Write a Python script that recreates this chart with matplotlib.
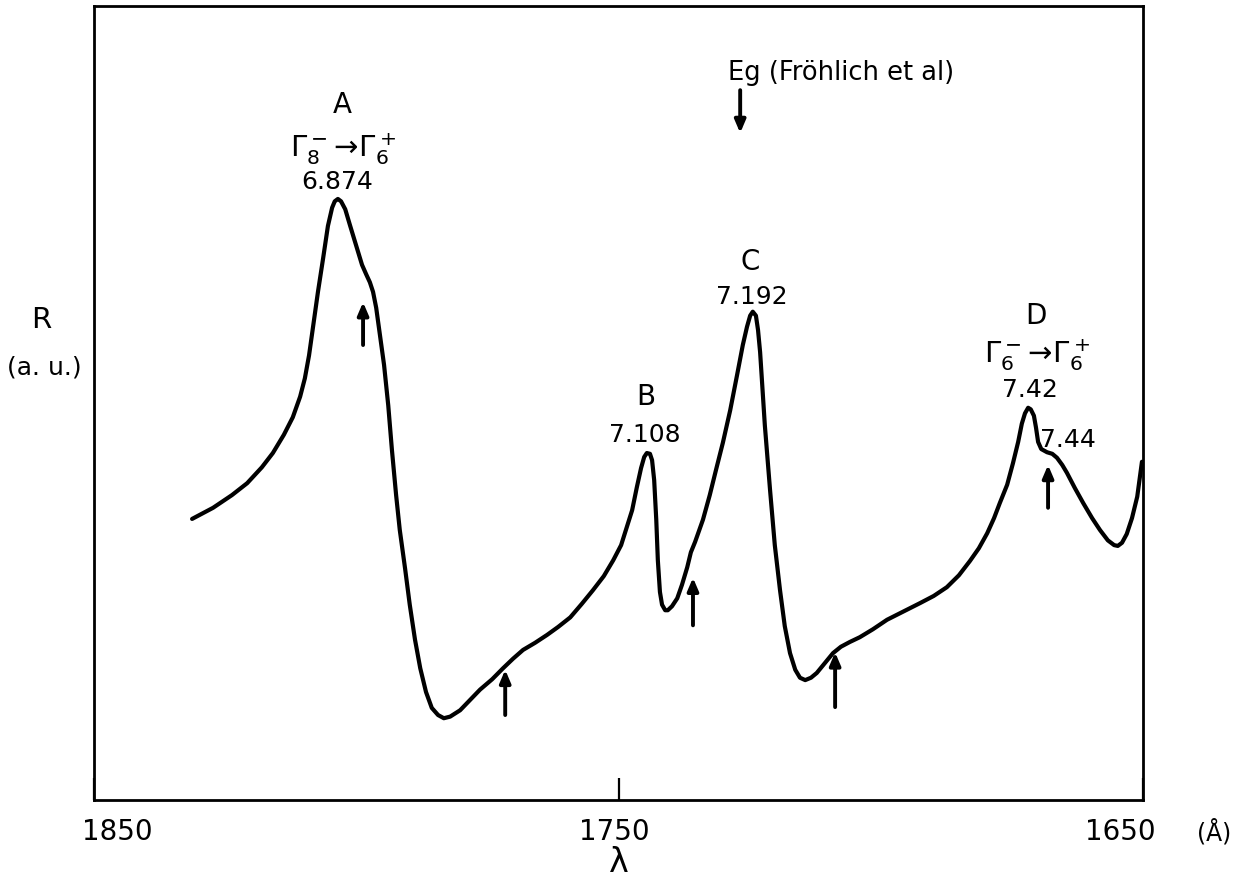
import matplotlib
matplotlib.use("Agg")
import matplotlib.pyplot as plt

plt.rcParams['font.family'] = ['DejaVu Sans']
plt.rcParams['mathtext.fontset'] = 'dejavusans'

# Reflectance spectrum R (a.u.) vs wavelength (Angstrom)
wavelength = [1831.3, 1827.3, 1823.7, 1820.8, 1818.0, 1815.9, 1813.8, 1812.1, 1810.7, 1809.8,
              1809.0, 1808.2, 1807.3, 1806.3, 1805.4, 1804.6, 1804.1, 1803.5, 1802.9, 1802.1,
              1801.2, 1800.0, 1798.9, 1798.1, 1797.4, 1796.8, 1796.2, 1795.5, 1794.7, 1793.9,
              1793.2, 1792.4, 1791.7, 1790.7, 1789.8, 1788.8, 1787.8, 1786.7, 1785.6, 1784.4,
              1783.3, 1782.1, 1780.2, 1778.3, 1776.4, 1774.1, 1772.0, 1770.1, 1768.2, 1765.9,
              1763.6, 1761.5, 1759.2, 1757.0, 1754.9, 1752.8, 1751.0, 1749.5, 1748.4, 1747.4,
              1746.5, 1745.7, 1745.1, 1744.6, 1744.0, 1743.6, 1743.2, 1742.8, 1742.5, 1742.1,
              1741.7, 1741.1, 1740.6, 1739.8, 1738.8, 1737.9, 1736.9, 1736.2, 1735.4, 1733.9,
              1732.6, 1731.4, 1730.1, 1728.7, 1727.4, 1726.3, 1725.5, 1724.9, 1724.4, 1723.8,
              1723.4, 1723.0, 1722.6, 1722.1, 1721.1, 1720.2, 1719.2, 1718.3, 1717.3, 1716.3,
              1715.4, 1714.4, 1713.3, 1712.2, 1710.6, 1709.1, 1707.6, 1705.9, 1704.0, 1701.5,
              1698.8, 1695.8, 1692.5, 1689.9, 1687.4, 1685.1, 1683.0, 1681.3, 1679.7, 1678.4,
              1677.3, 1675.9, 1674.8, 1673.8, 1673.1, 1672.5, 1671.9, 1671.4, 1670.8, 1670.4,
              1670.0, 1669.4, 1668.3, 1667.3, 1666.4, 1665.4, 1664.5, 1663.0, 1661.4, 1659.7,
              1658.2, 1656.7, 1655.5, 1654.8, 1654.0, 1653.1, 1652.1, 1651.1, 1650.6, 1650.2]
reflectance = [35.4, 36.8, 38.4, 39.9, 41.9, 43.7, 46.0, 48.2, 50.8, 53.1,
               56.0, 59.8, 64.0, 68.3, 72.3, 74.6, 75.4, 75.7, 75.4, 74.4,
               72.4, 69.8, 67.4, 66.2, 65.2, 64.0, 62.0, 58.6, 54.8, 49.7,
               44.1, 38.4, 34.0, 29.2, 24.6, 20.2, 16.6, 13.6, 11.6, 10.7,
               10.3, 10.5, 11.3, 12.6, 13.9, 15.2, 16.6, 17.8, 18.9, 19.8,
               20.8, 21.8, 23.0, 24.7, 26.4, 28.2, 30.2, 32.1, 34.4, 36.5,
               39.4, 41.8, 43.2, 43.7, 43.6, 42.8, 40.3, 35.3, 30.2, 26.2,
               24.6, 23.9, 23.9, 24.4, 25.4, 27.1, 29.3, 31.2, 32.5, 35.3,
               38.4, 41.6, 45.0, 49.1, 53.5, 57.3, 59.6, 61.0, 61.5, 61.0,
               59.2, 56.4, 52.3, 47.2, 39.0, 32.1, 26.4, 21.9, 18.5, 16.4,
               15.4, 15.1, 15.4, 16.0, 17.3, 18.5, 19.3, 19.9, 20.5, 21.5,
               22.7, 23.7, 24.8, 25.7, 26.8, 28.3, 30.1, 31.7, 33.6, 35.5,
               37.4, 39.7, 42.4, 45.1, 47.4, 48.7, 49.4, 49.2, 48.4, 46.9,
               45.1, 44.2, 43.8, 43.6, 43.1, 42.2, 41.2, 39.3, 37.4, 35.5,
               34.0, 32.7, 32.1, 32.0, 32.4, 33.5, 35.5, 38.2, 40.6, 42.6]

# structure markers (arrows): wavelength, tail R, tip R
marker_lambda = [1798.7, 1771.6, 1735.8, 1708.7, 1668.1]
marker_tail = [57.3, 10.7, 22.0, 11.7, 36.8]
marker_tip = [62.7, 16.4, 28.0, 18.6, 42.2]

eg_lambda = 1726.8
eg_tail, eg_tip = 89.4, 84.0

# peak labels: text, wavelength, R, size
peak_labels = ["A", r"$\Gamma_8^-\!\rightarrow\!\Gamma_6^+$", "6.874",
               "B", "7.108", "C", "7.192",
               "D", r"$\Gamma_6^-\!\rightarrow\!\Gamma_6^+$", "7.42", "7.44"]
peak_label_lambda = [1802.7, 1802.5, 1803.7, 1744.8, 1744.9, 1724.9, 1724.5,
                     1670.4, 1670.2, 1671.5, 1664.3]
peak_label_R = [87.5, 82.0, 77.8, 50.8, 46.0, 67.8, 63.4, 61.0, 56.0, 51.6, 45.3]
peak_label_size = [20, 21, 18, 20, 18, 20, 18, 20, 21, 18, 18]

tick_values = [1850, 1750, 1650]
tick_labels = ["1850", "1750", "1650"]

fig = plt.figure(figsize=(12.42, 8.88), dpi=100)
ax = fig.add_axes([94/1242, 88/888, (1143-94)/1242, (800-6)/888])

ax.plot(wavelength, reflectance, color='black', lw=3.0, solid_joinstyle='round',
        solid_capstyle='round')

ax.set_xlim(1850, 1650)
ax.set_ylim(0, 100)
for s in ax.spines.values():
    s.set_linewidth(2.0)

ax.set_yticks([])
ax.set_xticks(tick_values)
ax.set_xticklabels([])
ax.tick_params(axis='x', direction='in', length=16, width=1.6)

label_offsets = [17, -3, -16]
for v, t, off in zip(tick_values, tick_labels, label_offsets):
    ax.annotate(t, xy=(v, 0), xycoords=('data', 'axes fraction'),
                xytext=(off, -23), textcoords='offset points',
                ha='center', va='center', fontsize=20)
ax.annotate("(Å)", xy=(1650, 0), xycoords=('data', 'axes fraction'),
            xytext=(51, -23), textcoords='offset points',
            ha='center', va='center', fontsize=17)
ax.annotate("λ", xy=(1750, 0), xycoords=('data', 'axes fraction'),
            xytext=(0, -45), textcoords='offset points',
            ha='center', va='center', fontsize=24)

fig.text(41/1242, 1-320/888, "R", ha='center', va='center', fontsize=21)
fig.text(44/1242, 1-367/888, "(a. u.)", ha='center', va='center', fontsize=18)

arrow_style = dict(arrowstyle='-|>,head_length=0.75,head_width=0.32', lw=2.8,
                   color='black', shrinkA=0, shrinkB=0)
for lam, t0, t1 in zip(marker_lambda, marker_tail, marker_tip):
    ax.annotate("", xy=(lam, t1), xytext=(lam, t0), arrowprops=arrow_style)
ax.annotate("", xy=(eg_lambda, eg_tip), xytext=(eg_lambda, eg_tail), arrowprops=arrow_style)
ax.text(1707.6, 91.6, "Eg (Fröhlich et al)", ha='center', va='center', fontsize=18.5)

for t, lam, r, fs in zip(peak_labels, peak_label_lambda, peak_label_R, peak_label_size):
    ax.text(lam, r, t, ha='center', va='center', fontsize=fs)

fig.savefig("out.png", dpi=100)
